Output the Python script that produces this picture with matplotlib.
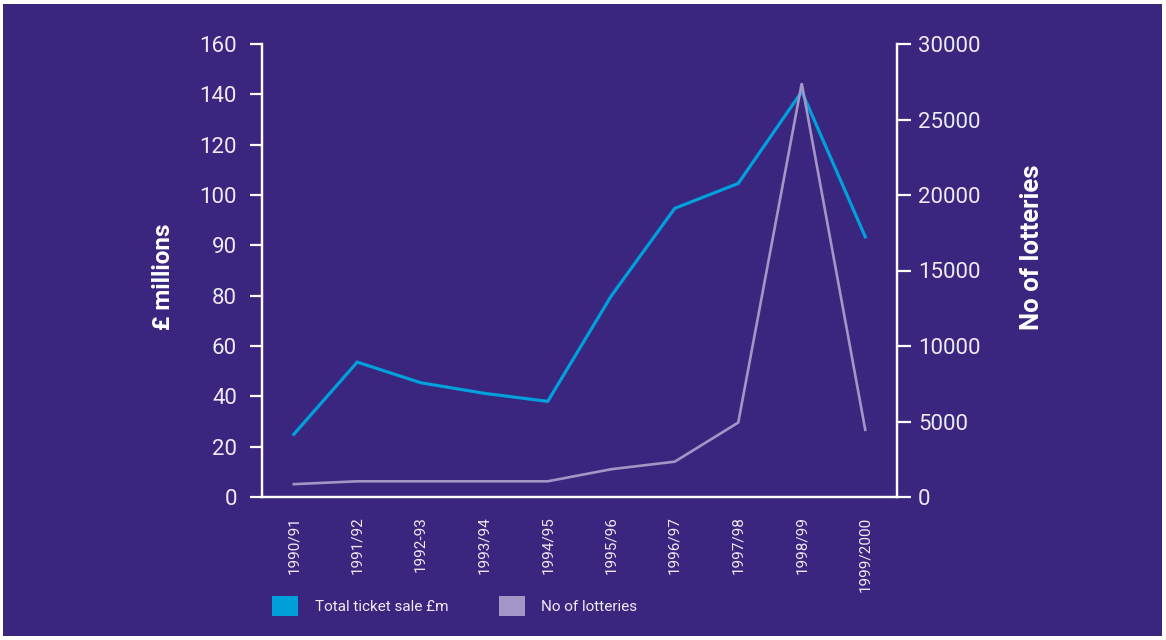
import matplotlib
matplotlib.use('Agg')
import matplotlib.pyplot as plt
from matplotlib.patches import Patch, Rectangle

plt.rcParams['font.family'] = ['Roboto', 'DejaVu Sans']

# Data
years = ['1990/91', '1991/92', '1992-93', '1993/94', '1994/95',
         '1995/96', '1996/97', '1997/98', '1998/99', '1999/2000']
ticket_sales = [24.9, 53.6, 45.4, 41.2, 38.0, 79.9, 114.7, 124.6, 161.1, 103.4]
lotteries = [850, 1040, 1040, 1040, 1040, 1840, 2340, 4930, 27400, 4450]

# left axis ticks as printed on the original (note the 90 label)
left_ticks = [0, 20, 40, 60, 80, 100, 120, 140, 160, 180]
left_labels = ['0', '20', '40', '60', '80', '90', '100', '120', '140', '160']
right_ticks = [0, 5000, 10000, 15000, 20000, 25000, 30000]

bg = '#3a267e'
blue = '#00a0dc'
lilac = '#a196c6'
txt = '#ecebf3'

fig = plt.figure(figsize=(11.66, 6.4), dpi=100)
fig.patch.set_facecolor('white')
fig.add_artist(Rectangle((3 / 1166, 4 / 640), 1 - 7 / 1166, 1 - 8 / 640,
                         transform=fig.transFigure, facecolor=bg,
                         edgecolor='none', zorder=0))

ax = fig.add_axes([262 / 1166, 1 - 497 / 640, 635 / 1166, 453 / 640])
ax.set_facecolor(bg)
ax2 = ax.twinx()

x = list(range(len(years)))
ax.plot(x, ticket_sales, color=blue, lw=2.3, solid_joinstyle='miter', zorder=3)
ax2.plot(x, lotteries, color=lilac, lw=1.9, solid_joinstyle='miter', zorder=2)

ax.set_xlim(-0.5, len(years) - 0.5)
ax.set_ylim(0, 180)
ax2.set_ylim(0, 30000)

for a in (ax, ax2):
    for s in a.spines.values():
        s.set_color('white')
        s.set_linewidth(1.6)
    a.spines['top'].set_visible(False)

ax.set_xticks(x)
ax.set_xticklabels(years, rotation=90, fontsize=11, color=txt)
ax.tick_params(axis='x', length=0, pad=14)

ax.set_yticks(left_ticks)
ax.set_yticklabels(left_labels)
ax.tick_params(axis='y', colors='white', labelcolor=txt, labelsize=16,
               length=9, width=1.6, pad=9)

ax2.set_yticks(right_ticks)
ax2.tick_params(axis='y', colors='white', labelcolor=txt, labelsize=16,
                length=10, width=1.6, pad=5)

fig.text(163 / 1166, 1 - 277 / 640, '£ millions', rotation=90, color='white',
         fontsize=17.5, fontweight='bold', ha='center', va='center')
fig.text(1032 / 1166, 1 - 247 / 640, 'No of lotteries', rotation=90,
         color='white', fontsize=18.5, fontweight='bold', ha='center', va='center')

handles = [Patch(facecolor=blue, edgecolor='none'),
           Patch(facecolor=lilac, edgecolor='none')]
leg = fig.legend(handles, ['Total ticket sale £m', 'No of lotteries'],
                 loc='center left', bbox_to_anchor=(272 / 1166, 1 - 606 / 640),
                 ncol=2, frameon=False, fontsize=11, handlelength=1.7,
                 handleheight=1.7, handletextpad=1.1, columnspacing=3.3,
                 borderpad=0, borderaxespad=0)
for t in leg.get_texts():
    t.set_color(txt)

fig.savefig('out.png', dpi=100, facecolor=fig.get_facecolor())
